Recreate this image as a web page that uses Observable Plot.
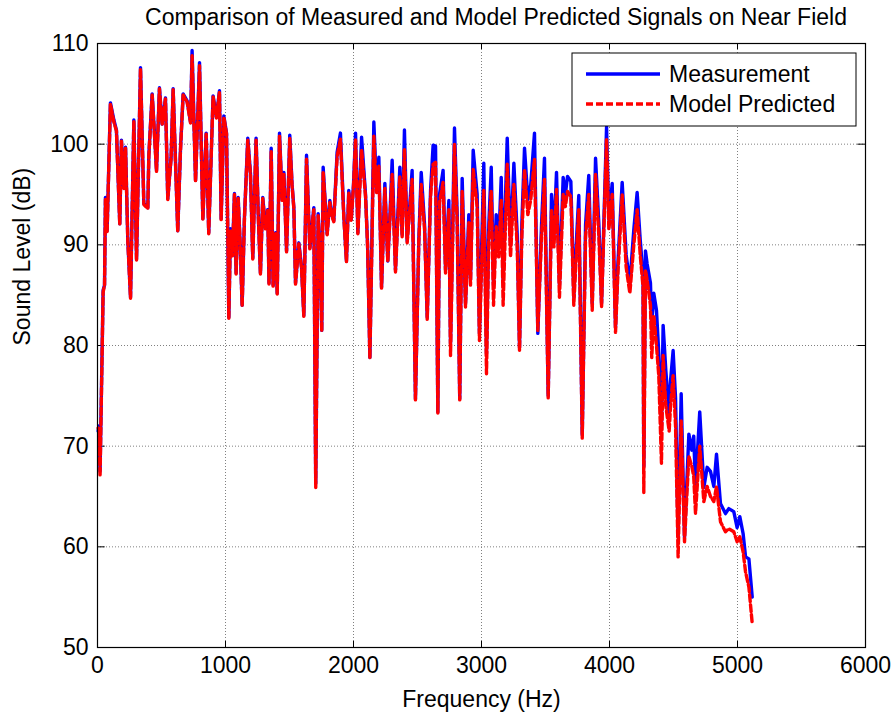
<!DOCTYPE html>
<html>
<head>
<meta charset="utf-8">
<script src="https://cdn.jsdelivr.net/npm/d3@7"></script>
<script src="https://cdn.jsdelivr.net/npm/@observablehq/plot@0.6"></script>
<style>
  html, body { margin: 0; padding: 0; background: #fff; }
  #chart svg { display: block; }
</style>
</head>
<body>
<div id="chart"></div>
<script>
const titleText = "Comparison of Measured and Model Predicted Signals on Near Field";
const xLabel = "Frequency (Hz)";
const yLabel = "Sound Level (dB)";
const seriesNames = ["Measurement", "Model Predicted"];
const xTicks = [0, 1000, 2000, 3000, 4000, 5000, 6000];
const yTicks = [50, 60, 70, 80, 90, 100, 110];

const freq = [5, 12, 20, 44, 55, 62, 75, 101, 128, 148, 174, 187, 206, 219, 237, 258, 284, 305, 336, 362,
  393, 401, 427, 440, 461, 484, 505, 531, 549, 575, 591, 627, 648, 669, 700, 727, 739, 766, 797, 823,
  849, 869, 903, 929, 953, 966, 987, 1008, 1026, 1039, 1054, 1070, 1083, 1099, 1115, 1130, 1148, 1174, 1195, 1213,
  1239, 1256, 1273, 1291, 1312, 1330, 1340, 1357, 1372, 1391, 1404, 1422, 1443, 1456, 1477, 1502, 1520, 1534, 1547, 1573,
  1594, 1612, 1633, 1659, 1680, 1690, 1705, 1724, 1740, 1752, 1763, 1781, 1794, 1815, 1830, 1846, 1872, 1898, 1924, 1945,
  1963, 1982, 2000, 2016, 2034, 2063, 2094, 2110, 2128, 2159, 2180, 2198, 2219, 2245, 2268, 2285, 2302, 2328, 2362, 2380,
  2398, 2419, 2440, 2458, 2484, 2510, 2529, 2555, 2576, 2602, 2622, 2641, 2659, 2672, 2700, 2719, 2745, 2758, 2789, 2810,
  2830, 2849, 2875, 2901, 2914, 2935, 2966, 2984, 3018, 3039, 3057, 3076, 3094, 3115, 3134, 3154, 3169, 3201, 3227, 3253,
  3279, 3297, 3315, 3336, 3362, 3385, 3414, 3440, 3469, 3492, 3521, 3547, 3566, 3586, 3609, 3638, 3655, 3672, 3698, 3721,
  3740, 3760, 3787, 3813, 3838, 3865, 3891, 3917, 3938, 3977, 3995, 4021, 4047, 4065, 4099, 4130, 4159, 4190, 4216, 4240,
  4262, 4268, 4281, 4294, 4320, 4330, 4346, 4367, 4385, 4406, 4419, 4440, 4466, 4477, 4497, 4516, 4536, 4560, 4586, 4620,
  4643, 4658, 4672, 4705, 4737, 4763, 4789, 4815, 4836, 4867, 4906, 4932, 4971, 4997, 5018, 5044, 5063, 5089, 5115];

const measured = [71.5, 72.0, 67.5, 85.5, 86.0, 94.7, 91.4, 104.1, 102.4, 101.4, 92.1, 100.4, 95.7, 99.7, 90.4, 84.8, 102.4, 88.6, 107.6, 94.1,
  93.7, 98.9, 105.0, 102.2, 97.4, 105.6, 102.0, 104.6, 94.6, 98.7, 105.5, 91.4, 99.4, 105.0, 104.3, 102.2, 109.3, 96.4, 108.1, 92.6,
  101.1, 91.2, 104.8, 102.7, 105.3, 92.6, 102.8, 101.1, 82.8, 91.6, 89.0, 95.1, 87.2, 94.7, 90.0, 84.0, 92.7, 100.6, 97.1, 88.7,
  100.6, 93.0, 87.2, 94.7, 91.7, 93.5, 86.2, 99.6, 86.0, 91.2, 85.2, 101.1, 94.5, 97.2, 89.4, 100.9, 96.0, 93.7, 86.2, 90.2,
  87.8, 83.0, 98.9, 89.7, 92.4, 93.7, 66.3, 93.1, 89.0, 81.5, 97.7, 93.8, 91.1, 94.4, 93.0, 92.4, 99.2, 101.1, 93.0, 88.4,
  95.4, 92.5, 96.0, 101.1, 91.2, 100.7, 95.0, 90.0, 78.8, 102.2, 95.5, 98.7, 85.8, 96.1, 88.4, 93.0, 98.4, 87.5, 97.7, 91.0,
  101.4, 90.4, 94.0, 97.4, 74.7, 90.4, 97.2, 92.0, 82.8, 95.4, 99.9, 99.8, 73.4, 95.0, 97.4, 87.5, 94.4, 80.2, 101.6, 93.0,
  74.7, 96.6, 84.2, 93.0, 86.5, 99.4, 95.0, 81.2, 98.1, 79.2, 92.0, 97.7, 86.0, 93.0, 90.0, 96.7, 86.5, 100.6, 90.0, 98.1,
  91.0, 79.8, 92.0, 99.6, 94.5, 96.0, 101.1, 81.2, 92.0, 98.6, 75.0, 95.0, 91.0, 97.2, 86.0, 96.7, 95.0, 96.8, 96.3, 84.8,
  90.0, 94.9, 71.1, 92.0, 96.9, 84.2, 98.6, 92.0, 84.2, 101.7, 92.5, 96.1, 81.8, 88.0, 96.2, 89.0, 86.2, 91.5, 95.2, 90.5,
  87.0, 68.0, 89.4, 88.1, 86.2, 82.0, 85.2, 83.5, 79.2, 72.0, 82.0, 77.5, 73.2, 76.5, 79.5, 74.8, 61.0, 75.2, 60.9, 71.2,
  69.6, 71.0, 66.0, 73.4, 65.9, 67.9, 67.5, 66.0, 69.2, 64.3, 63.3, 63.8, 63.5, 61.9, 63.0, 61.3, 59.0, 58.8, 55.0];

const predicted = [71.8, 71.5, 67.0, 85.3, 86.0, 94.5, 91.2, 104.0, 102.2, 101.3, 92.0, 100.3, 95.6, 99.6, 90.3, 84.7, 102.3, 88.5, 107.5, 94.0,
  93.6, 98.8, 104.9, 102.1, 97.3, 105.5, 101.9, 104.5, 94.5, 98.6, 105.4, 91.3, 99.3, 104.9, 104.2, 102.1, 108.8, 96.3, 107.8, 92.5,
  101.0, 91.1, 104.7, 102.6, 105.2, 92.5, 102.7, 101.0, 82.7, 91.5, 88.9, 95.0, 87.1, 94.6, 89.9, 83.9, 92.6, 100.4, 97.0, 88.6,
  100.4, 92.9, 87.1, 94.6, 91.6, 93.4, 86.1, 99.4, 85.9, 91.1, 85.1, 100.8, 94.4, 97.0, 89.3, 100.6, 95.9, 93.6, 86.1, 90.1,
  87.7, 82.9, 98.5, 89.6, 92.3, 93.5, 65.9, 92.9, 88.9, 81.4, 97.3, 93.6, 91.0, 94.2, 92.9, 92.3, 98.8, 100.5, 92.8, 88.3,
  95.2, 92.4, 95.8, 100.5, 91.1, 99.5, 94.8, 89.9, 78.7, 100.8, 95.2, 97.8, 85.7, 95.6, 88.3, 92.7, 97.0, 87.3, 96.8, 90.8,
  99.5, 90.2, 93.5, 96.5, 74.6, 90.2, 96.0, 91.6, 82.6, 94.8, 98.0, 98.2, 73.3, 94.2, 96.2, 87.2, 93.5, 79.0, 100.0, 92.2,
  74.6, 95.3, 83.8, 92.2, 86.0, 97.5, 93.8, 80.5, 95.4, 77.2, 90.8, 95.4, 84.0, 91.8, 88.8, 94.5, 84.0, 98.0, 88.8, 96.0,
  89.8, 79.5, 90.8, 97.5, 93.0, 94.5, 98.5, 81.5, 90.8, 96.5, 74.8, 93.5, 89.8, 95.5, 84.8, 95.0, 93.8, 95.3, 94.8, 84.0,
  88.8, 93.5, 70.8, 90.8, 95.0, 83.5, 97.0, 90.8, 83.8, 100.5, 91.5, 95.0, 81.3, 87.0, 95.0, 87.8, 85.2, 90.0, 93.5, 89.0,
  85.8, 65.4, 87.5, 86.5, 84.0, 78.8, 83.0, 80.0, 77.0, 68.3, 79.0, 74.0, 71.5, 74.0, 77.0, 72.0, 59.0, 72.5, 60.5, 69.0,
  68.0, 67.0, 63.3, 70.0, 64.5, 66.0, 65.0, 64.5, 66.0, 62.5, 61.5, 61.8, 61.5, 60.5, 61.0, 59.5, 57.5, 56.0, 52.4];

const data = freq.map((f, i) => ({f, m: measured[i], p: predicted[i]}));

const FONT = "'Liberation Sans', Arial, Helvetica, sans-serif";
const FS = 23;
const W = 893, H = 715;
const mL = 97, mR = 28, mT = 43, mB = 68;

const chart = Plot.plot({
  width: W,
  height: H,
  marginLeft: mL,
  marginRight: mR,
  marginTop: mT,
  marginBottom: mB,
  style: {fontFamily: FONT, fontSize: FS + "px", color: "#000", background: "#fff"},
  x: {domain: [0, 6000]},
  y: {domain: [50, 110]},
  marks: [
    Plot.gridX(xTicks, {stroke: "#808080", strokeOpacity: 1, strokeWidth: 1, strokeDasharray: "1,2"}),
    Plot.gridY(yTicks, {stroke: "#808080", strokeOpacity: 1, strokeWidth: 1, strokeDasharray: "1,2"}),
    Plot.ruleX(xTicks, {y1: 50, y2: 50.6, stroke: "#000"}),
    Plot.ruleX(xTicks, {y1: 109.4, y2: 110, stroke: "#000"}),
    Plot.ruleY(yTicks, {x1: 0, x2: 60, stroke: "#000"}),
    Plot.ruleY(yTicks, {x1: 5940, x2: 6000, stroke: "#000"}),
    Plot.line(data, {x: "f", y: "m", stroke: "#0000ff", strokeWidth: 3.4, strokeLinejoin: "round"}),
    Plot.line(data, {x: "f", y: "p", stroke: "#ff0000", strokeWidth: 3.4, strokeDasharray: "7,3", strokeLinejoin: "round"}),
    Plot.frame({stroke: "#000", strokeWidth: 1.2}),
    Plot.axisX(xTicks, {tickSize: 0, tickPadding: 9, fontSize: FS, label: null, fill: "#000", tickFormat: d => String(d)}),
    Plot.axisY(yTicks, {tickSize: 0, tickPadding: 9, fontSize: FS, label: null, fill: "#000", tickFormat: d => String(d)}),
    Plot.text([xLabel], {frameAnchor: "bottom", dy: 59, fontSize: FS, fill: "#000"}),
    Plot.text([yLabel], {frameAnchor: "left", dx: -75, rotate: -90, fontSize: FS, fill: "#000"})
  ]
});

const svg = d3.select(chart);
svg.append("text")
  .attr("x", 496).attr("y", 25)
  .attr("text-anchor", "middle")
  .attr("font-family", FONT).attr("font-size", FS).attr("fill", "#000")
  .text(titleText);

const lg = svg.append("g");
lg.append("rect").attr("x", 572).attr("y", 53).attr("width", 284).attr("height", 73)
  .attr("fill", "#fff").attr("stroke", "#000").attr("stroke-width", 1);
lg.append("line").attr("x1", 586).attr("x2", 660).attr("y1", 74).attr("y2", 74)
  .attr("stroke", "#0000ff").attr("stroke-width", 3.4);
lg.append("line").attr("x1", 586).attr("x2", 660).attr("y1", 104).attr("y2", 104)
  .attr("stroke", "#ff0000").attr("stroke-width", 3.4).attr("stroke-dasharray", "7,3");
seriesNames.forEach((name, i) => {
  lg.append("text").attr("x", 669).attr("y", 74 + 30 * i).attr("dy", "0.36em")
    .attr("text-anchor", "start")
    .attr("font-family", FONT).attr("font-size", FS).attr("fill", "#000").text(name);
});

document.getElementById("chart").appendChild(chart);
</script>
</body>
</html>
